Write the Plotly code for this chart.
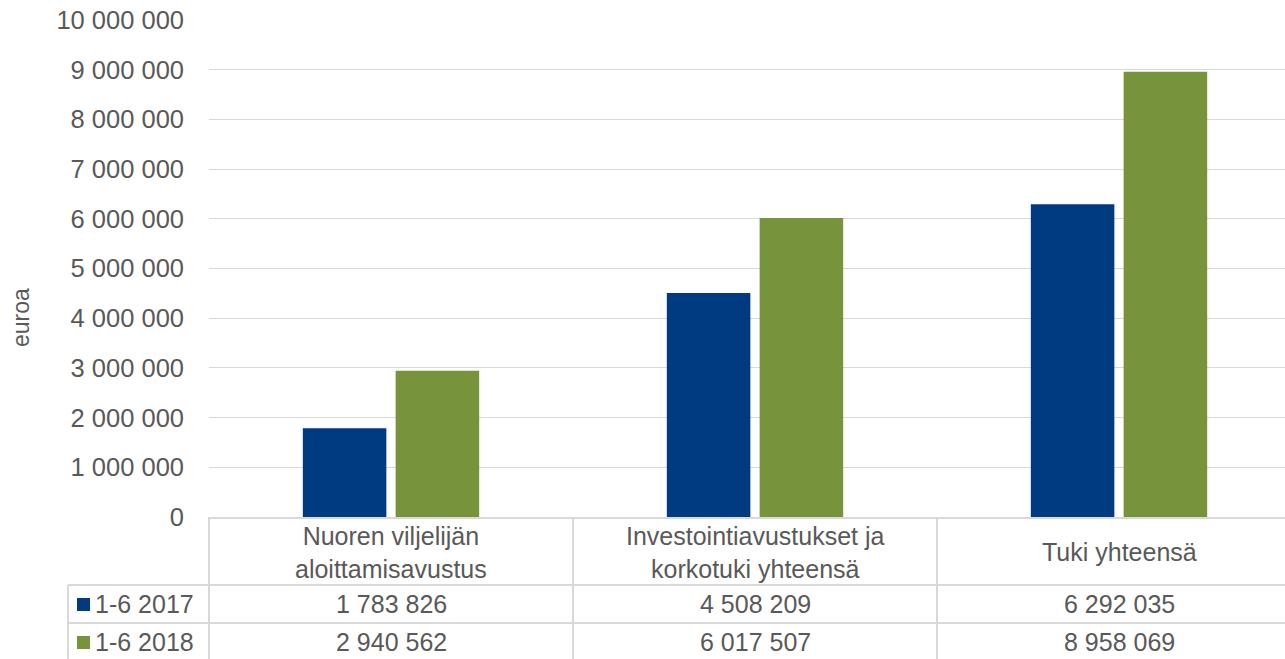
import plotly.graph_objects as go

# data
categories = ["Nuoren viljelijän<br>aloittamisavustus",
              "Investointiavustukset ja<br>korkotuki yhteensä",
              "Tuki yhteensä"]
series_names = ["1-6 2017", "1-6 2018"]
values_2017 = [1783826, 4508209, 6292035]
values_2018 = [2940562, 6017507, 8958069]
y_ticks = [0, 1000000, 2000000, 3000000, 4000000, 5000000,
           6000000, 7000000, 8000000, 9000000, 10000000]

colors = ["#003A80", "#77933C"]
text_col = "#595959"
grid_col = "#D9D9D9"
FONT = "Liberation Sans, Arial, sans-serif"

W, H = 1285, 659
L, R, T, B = 209, 0, 20, 142
plot_w = W - L - R
plot_h = H - T - B
cat_w = 364  # table columns run a little past the right edge of the image


def px(x):
    # pixel x -> paper
    return (x - L) / plot_w


def py(y):
    # pixel y -> paper
    return (H - B - y) / plot_h


def fmt(v):
    return f"{v:,}".replace(",", " ")


x_idx = list(range(len(categories)))
fig = go.Figure()
for name, vals, col in zip(series_names, [values_2017, values_2018], colors):
    fig.add_trace(go.Bar(x=x_idx, y=vals, name=name,
                         marker=dict(color=col, line=dict(width=0))))

fig.update_layout(
    width=W, height=H,
    margin=dict(l=L, r=R, t=T, b=B),
    paper_bgcolor="white", plot_bgcolor="white",
    barmode="group", bargap=0.49, bargroupgap=0.1,
    showlegend=False,
    font=dict(family=FONT, color=text_col, size=25),
)
fig.update_yaxes(range=[0, 10000000], tickvals=y_ticks,
                 ticktext=[fmt(v) for v in y_ticks],
                 showgrid=True, gridcolor=grid_col, gridwidth=1,
                 zeroline=False, showline=False,
                 ticklabelstandoff=24,
                 tickfont=dict(size=25.5, color=text_col, family=FONT))
fig.update_xaxes(range=[-0.5, -0.5 + plot_w / cat_w], showticklabels=False,
                 showgrid=False, zeroline=False,
                 showline=True, linecolor=grid_col, linewidth=2)

# y axis title
fig.add_annotation(text="euroa", xref="paper", yref="paper",
                   x=px(21), y=py(318), xanchor="center", yanchor="middle",
                   textangle=-90, showarrow=False,
                   font=dict(size=23, color=text_col, family=FONT))

# data table lines
line = dict(color=grid_col, width=2)
bottom = py(H + 5)
for yy in [585, 623]:
    fig.add_shape(type="line", xref="paper", yref="paper",
                  x0=px(68), x1=1, y0=py(yy), y1=py(yy), line=line)
fig.add_shape(type="line", xref="paper", yref="paper",
              x0=px(68), x1=px(68), y0=py(585), y1=bottom, line=line)
fig.add_shape(type="line", xref="paper", yref="paper",
              x0=0, x1=0, y0=0, y1=bottom, line=line)
for b in [0.5, 1.5]:
    fig.add_shape(type="line", xref="x", yref="paper",
                  x0=b, x1=b, y0=0, y1=bottom, line=line)

# header row
for i, c in enumerate(categories):
    fig.add_annotation(text=c, xref="x", yref="paper", x=i, y=py(552),
                       showarrow=False, xanchor="center", yanchor="middle",
                       font=dict(size=25, color=text_col, family=FONT))

# value rows with legend keys
row_y = [604, 642]
for name, vals, col, ry in zip(series_names, [values_2017, values_2018], colors, row_y):
    fig.add_shape(type="rect", xref="paper", yref="paper",
                  x0=px(77), x1=px(90), y0=py(ry - 6), y1=py(ry + 7),
                  fillcolor=col, line=dict(width=0))
    fig.add_annotation(text=name, xref="paper", yref="paper", x=px(93), y=py(ry),
                       xanchor="left", yanchor="middle", showarrow=False,
                       font=dict(size=25, color=text_col, family=FONT))
    for i, v in enumerate(vals):
        fig.add_annotation(text=fmt(v), xref="x", yref="paper", x=i, y=py(ry),
                           xanchor="center", yanchor="middle", showarrow=False,
                           font=dict(size=25, color=text_col, family=FONT))

fig.write_html("out.html", config={"displayModeBar": False},
               post_script="document.body.style.margin='0';document.body.style.overflow='hidden';")
